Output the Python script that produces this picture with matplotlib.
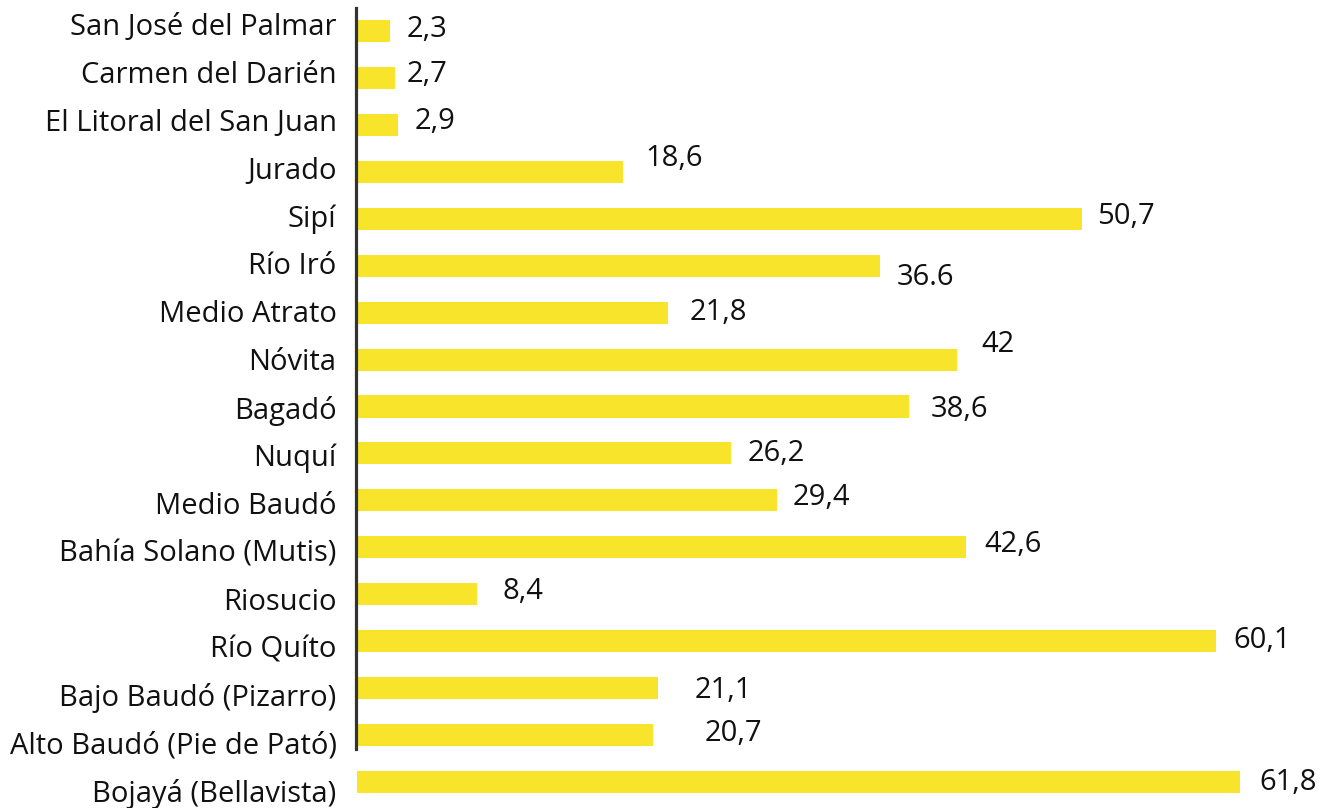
import matplotlib
matplotlib.use("Agg")
import matplotlib.pyplot as plt

categories = ["San José del Palmar", "Carmen del Darién", "El Litoral del San Juan",
              "Jurado", "Sipí", "Río Iró", "Medio Atrato", "Nóvita", "Bagadó", "Nuquí",
              "Medio Baudó", "Bahía Solano (Mutis)", "Riosucio", "Río Quíto",
              "Bajo Baudó (Pizarro)", "Alto Baudó (Pie de Pató)", "Bojayá (Bellavista)"]
values = [2.3, 2.7, 2.9, 18.6, 50.7, 36.6, 21.8, 42, 38.6, 26.2, 29.4, 42.6, 8.4,
          60.1, 21.1, 20.7, 61.8]
value_labels = ["2,3", "2,7", "2,9", "18,6", "50,7", "36.6", "21,8", "42", "38,6",
                "26,2", "29,4", "42,6", "8,4", "60,1", "21,1", "20,7", "61,8"]

# label offsets from bar end (pixels), layout only
label_dx = [17, 11, 16, 23, 15, 17, 21, 24, 22, 16, 15, 18, 26, 17, 36, 52, 19]
label_dy = [-1, -3, -3, -13, -2, 12, 0, -15, 3, 0, -3, -3, -3, -1, 2, -2, 0]

plt.rcParams['font.family'] = ['Open Sans', 'DejaVu Sans']

W, H = 1333, 808
fig = plt.figure(figsize=(W / 100, H / 100), dpi=100)
ax_left, ax_top, ax_bottom = 356, 8, 808
ax = fig.add_axes([ax_left / W, 1 - ax_bottom / H, (W - ax_left) / W, (ax_bottom - ax_top) / H])

n = len(categories)
pos = list(range(n))
ax.barh(pos, values, height=0.47, color="#F8E52B", left=0.05)

px_per_unit = 46.94
first_bar_px = 31
ax.set_ylim(n - 1 + (ax_bottom - 782) / px_per_unit, -(first_bar_px - ax_top) / px_per_unit)
ax.set_xlim(0, (W - ax_left) / 14.3)

for i, (v, t) in enumerate(zip(values, value_labels)):
    ax.annotate(t, xy=(v + 0.05, i), xytext=(label_dx[i] * 0.72, -label_dy[i] * 0.72),
                textcoords="offset points", ha="left", va="center",
                fontsize=21, color="#111111")

# category labels are evenly spaced slightly differently than bars
lab_start_px, lab_step_px = 24.0, 47.9
tick_pos = [(lab_start_px + i * lab_step_px - first_bar_px) / px_per_unit for i in range(n)]
ax.set_yticks(tick_pos)
ax.set_yticklabels(categories, fontsize=21, color="#111111")
ax.tick_params(axis="y", length=0, pad=14)
ax.set_xticks([])
for s in ["top", "right", "bottom"]:
    ax.spines[s].set_visible(False)
ax.spines["left"].set_color("#333333")
ax.spines["left"].set_linewidth(2.3)
ax.spines["left"].set_bounds(-(first_bar_px - ax_top) / px_per_unit,
                             (749 - first_bar_px) / px_per_unit)

fig.savefig("out.png", dpi=100)
